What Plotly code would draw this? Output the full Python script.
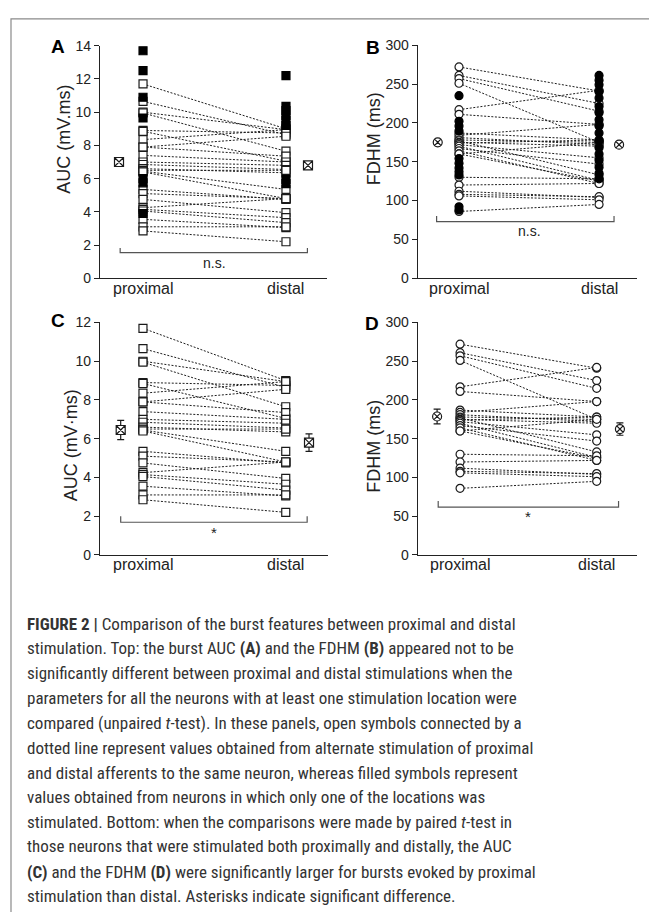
import plotly.graph_objects as go

# the page body adds an 8px margin on every side, so the figure is drawn smaller and shifted
OFF = 8
W, H = 657 - OFF, 920 - 2 * OFF

# ---------------- data ----------------
groups = ["proximal", "distal"]

# paired neurons (open symbols, dotted lines) - AUC (mV.ms)
auc_prox_paired = [11.7, 10.65, 10.0, 9.95, 8.9, 8.85, 8.35, 7.9, 7.9, 7.4, 7.0, 6.85, 6.6,
                   6.5, 6.45, 6.4, 5.35, 5.1, 4.75, 4.25, 4.15, 4.05, 3.55, 3.1, 2.85]
auc_dist_paired = [9.0, 8.65, 8.95, 7.65, 8.75, 7.05, 8.95, 8.55, 7.35, 7.0, 6.8, 6.55, 6.35,
                   6.5, 5.35, 4.8, 4.75, 4.8, 3.95, 4.8, 3.65, 3.35, 3.05, 3.1, 2.2]
# single-location neurons (filled symbols) - AUC
auc_prox_only = [13.7, 12.5, 10.9, 9.65, 6.0, 5.75, 3.9]
auc_dist_only = [12.2, 10.35, 10.1, 9.8, 9.5, 9.2, 5.95, 5.7]

# paired neurons - FDHM (ms)
fdhm_prox_paired = [272, 261, 257, 251, 217, 211, 187, 184, 181, 178, 177, 175, 174, 172,
                    170, 167, 164, 160, 160, 130, 120, 112, 108, 106, 86]
fdhm_dist_paired = [241, 225, 215, 175, 242, 198, 178, 198, 172, 175, 133, 170, 178, 155,
                    126, 147, 122, 125, 175, 128, 122, 104, 105, 101, 95]
# single-location neurons - FDHM
fdhm_prox_only = [235, 202, 196, 190, 154, 148, 142, 137, 133, 92, 88]
fdhm_dist_only = [261, 255, 249, 240, 232, 221, 213, 204, 196, 187, 177, 168, 160,
                  152, 143, 135, 128]

# group means (crossed symbols) and s.e.m.
mean_auc_all = [7.0, 6.8]
sem_auc_all = [0.25, 0.25]
mean_fdhm_all = [175, 172]
sem_fdhm_all = [4, 4]
mean_auc_paired = [6.45, 5.8]
sem_auc_paired = [0.5, 0.45]
mean_fdhm_paired = [178.7, 162.5]
sem_fdhm_paired = [9.5, 8.0]

sig_labels = ["n.s.", "n.s.", "*", "*"]

caption_lines = [
    "<b>FIGURE 2 |</b> Comparison of the burst features between proximal and distal",
    "stimulation. Top: the burst AUC <b>(A)</b> and the FDHM <b>(B)</b> appeared not to be",
    "significantly different between proximal and distal stimulations when the",
    "parameters for all the neurons with at least one stimulation location were",
    "compared (unpaired <i>t</i>-test). In these panels, open symbols connected by a",
    "dotted line represent values obtained from alternate stimulation of proximal",
    "and distal afferents to the same neuron, whereas filled symbols represent",
    "values obtained from neurons in which only one of the locations was",
    "stimulated. Bottom: when the comparisons were made by paired <i>t</i>-test in",
    "those neurons that were stimulated both proximally and distally, the AUC",
    "<b>(C)</b> and the FDHM <b>(D)</b> were significantly larger for bursts evoked by proximal",
    "stimulation than distal. Asterisks indicate significant difference.",
]

# ---------------- helpers ----------------
def px(x):
    return (x - OFF) / W

def py(y):
    return 1 - (y - OFF) / H

FONT = "Liberation Sans, Arial, sans-serif"
INK = "#222222"

fig = go.Figure()

panels = [
    dict(key="A", xd=(100, 327), yd=(38.3, 275), xr=[0.699, 2.287], yr=[0, 14], dt=2,
         title="AUC (mV.ms)", tpos=(64, 134), lpos=(58, 39), lab_y=285,
         prox=auc_prox_paired, dist=auc_dist_paired, ponly=auc_prox_only, donly=auc_dist_only,
         mean=mean_auc_all, sem=sem_auc_all, msx=[0.832, 2.154], sym="square",
         br=(0.84, 2.15, 1.54, 1.83), sig=(1.5, 0.9), err=False),
    dict(key="B", xd=(417.7, 637), yd=(37.7, 275), xr=[0.705, 2.271], yr=[0, 300], dt=50,
         title="FDHM (ms)", tpos=(374, 132.5), lpos=(372.5, 40), lab_y=285,
         prox=fdhm_prox_paired, dist=fdhm_dist_paired, ponly=fdhm_prox_only, donly=fdhm_dist_only,
         mean=mean_fdhm_all, sem=sem_fdhm_all, msx=[0.848, 2.143], sym="circle",
         br=(0.84, 2.107, 73, 80), sig=(1.5, 60.7), err=False),
    dict(key="C", xd=(100, 328), yd=(320, 556.7), xr=[0.699, 2.296], yr=[0, 12], dt=2,
         title="AUC (mV·ms)", tpos=(71, 445), lpos=(57.5, 318), lab_y=566.5,
         prox=auc_prox_paired, dist=auc_dist_paired, ponly=[], donly=[],
         mean=mean_auc_paired, sem=sem_auc_paired, msx=[0.844, 2.163], sym="square",
         br=(0.844, 2.15, 1.69, 2.0), sig=(1.5, 1.15), err=True),
    dict(key="D", xd=(417.7, 637), yd=(320, 556.7), xr=[0.69, 2.295], yr=[0, 300], dt=50,
         title="FDHM (ms)", tpos=(374.5, 446), lpos=(372, 321), lab_y=566.5,
         prox=fdhm_prox_paired, dist=fdhm_dist_paired, ponly=[], donly=[],
         mean=mean_fdhm_paired, sem=sem_fdhm_paired, msx=[0.832, 2.17], sym="circle",
         br=(0.84, 2.16, 61.7, 69.7), sig=(1.5, 49.5), err=True),
]

annotations = []
layout_axes = {}

for i, p in enumerate(panels):
    n = i + 1
    xa = "x" if n == 1 else f"x{n}"
    ya = "y" if n == 1 else f"y{n}"
    xname = "xaxis" if n == 1 else f"xaxis{n}"
    yname = "yaxis" if n == 1 else f"yaxis{n}"

    layout_axes[xname] = dict(
        domain=[px(p["xd"][0]), px(p["xd"][1])], range=p["xr"], anchor=ya,
        showline=True, linecolor=INK, linewidth=1.3, ticks="", showgrid=False,
        zeroline=False, tickvals=[1, 2], ticktext=groups, showticklabels=False,
    )
    layout_axes[yname] = dict(
        domain=[py(p["yd"][1]), py(p["yd"][0])], range=p["yr"], anchor=xa,
        showline=True, linecolor=INK, linewidth=1.3, ticks="outside", ticklen=5,
        tickwidth=1.2, tickcolor=INK, dtick=p["dt"], showgrid=False, zeroline=False,
        tickfont=dict(family=FONT, size=14, color=INK),
    )

    # category labels below the x axis
    for k, g in enumerate(groups):
        annotations.append(dict(x=k + 1, y=py(p["lab_y"]), xref=xa, yref="paper", text=g,
                                showarrow=False, xanchor="center", yanchor="middle",
                                font=dict(family=FONT, size=16, color=INK)))

    # dotted connecting lines
    lx, ly = [], []
    for a, b in zip(p["prox"], p["dist"]):
        lx += [1, 2, None]
        ly += [a, b, None]
    fig.add_trace(go.Scatter(x=lx, y=ly, xaxis=xa, yaxis=ya, mode="lines",
                             line=dict(color="#1e1e1e", width=1, dash="2px,1.6px"),
                             hoverinfo="skip", showlegend=False))

    # open symbols
    fig.add_trace(go.Scatter(
        x=[1] * len(p["prox"]) + [2] * len(p["dist"]), y=p["prox"] + p["dist"],
        xaxis=xa, yaxis=ya, mode="markers", showlegend=False,
        marker=dict(symbol=p["sym"], size=8, color="white",
                    line=dict(color="#1a1a1a", width=1.2))))

    # filled symbols
    if p["ponly"] or p["donly"]:
        fig.add_trace(go.Scatter(
            x=[1] * len(p["ponly"]) + [2] * len(p["donly"]), y=p["ponly"] + p["donly"],
            xaxis=xa, yaxis=ya, mode="markers", showlegend=False,
            marker=dict(symbol=p["sym"], size=8, color="black",
                        line=dict(color="black", width=1.2))))

    # means
    mk = dict(symbol=p["sym"] + "-x", size=9, color="white",
              line=dict(color="#1a1a1a", width=1.2))
    tr = dict(x=p["msx"], y=p["mean"], xaxis=xa, yaxis=ya, mode="markers",
              showlegend=False, marker=mk)
    if p["err"]:
        tr["error_y"] = dict(type="data", array=p["sem"], visible=True,
                             color="#1a1a1a", thickness=1.2, width=3.5)
    fig.add_trace(go.Scatter(**tr))

    # significance bracket
    x0, x1, yb, yt = p["br"]
    fig.add_trace(go.Scatter(x=[x0, x0, x1, x1], y=[yt, yb, yb, yt], xaxis=xa, yaxis=ya,
                             mode="lines", line=dict(color="#555555", width=1.2),
                             hoverinfo="skip", showlegend=False))
    annotations.append(dict(x=p["sig"][0], y=p["sig"][1], xref=xa, yref=ya,
                            text=sig_labels[i], showarrow=False,
                            font=dict(family=FONT, size=15 if p["err"] else 14, color=INK)))

    # axis title
    annotations.append(dict(x=px(p["tpos"][0]), y=py(p["tpos"][1]), xref="paper", yref="paper",
                            text=p["title"], textangle=-90, showarrow=False,
                            xanchor="center", yanchor="middle",
                            font=dict(family=FONT, size=18, color=INK)))
    # panel letter
    annotations.append(dict(x=px(p["lpos"][0]), y=py(p["lpos"][1]), xref="paper", yref="paper",
                            text="<b>" + p["key"] + "</b>", showarrow=False,
                            xanchor="center", yanchor="middle",
                            font=dict(family=FONT, size=19, color="black")))

# caption
cap_y = [626.7, 651.7, 677.3, 702.7, 727.7, 752.7, 778.3, 803.3, 828.3, 853.3, 879.3, 904]
for t, yy in zip(caption_lines, cap_y):
    annotations.append(dict(x=px(25), y=py(yy), xref="paper", yref="paper", text=t,
                            showarrow=False, xanchor="left", yanchor="middle",
                            font=dict(family="Liberation Sans Narrow, Roboto Condensed, Liberation Sans",
                                      size=17, color="#333333")))

fig.update_layout(
    width=W, height=H, autosize=False, margin=dict(l=0, r=0, t=0, b=0),
    paper_bgcolor="white", plot_bgcolor="white", showlegend=False,
    annotations=annotations,
    shapes=[dict(type="rect", xref="paper", yref="paper", x0=px(11), x1=1.2,
                 y0=-0.2, y1=py(11), line=dict(color="#8a8a8a", width=1.2))],
    **layout_axes,
)

fig.write_html("out.html", config={"displayModeBar": False})
